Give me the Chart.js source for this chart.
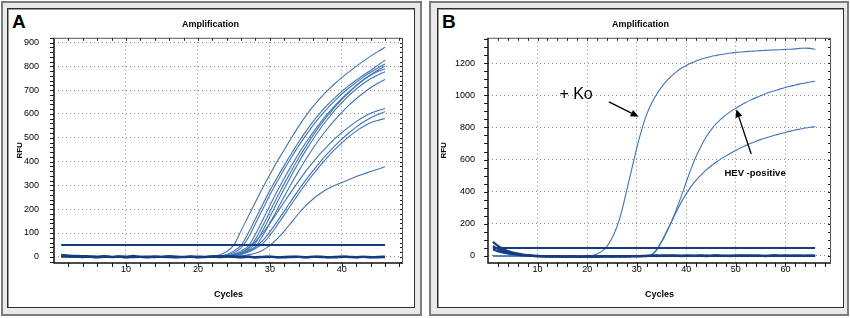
<!DOCTYPE html>
<html>
<head>
<meta charset="utf-8">
<script src="https://cdn.jsdelivr.net/npm/chart.js@4.4.1/dist/chart.umd.min.js"></script>
<style>
  html, body { margin: 0; padding: 0; background: #fff; }
  body { width: 850px; height: 318px; position: relative; overflow: hidden; }
  .frame { position: absolute; box-sizing: border-box; background: #e9e9e9; border: 2px solid #7c7c7c; }
  .inner { position: absolute; box-sizing: border-box; background: #fff; border: 1px solid #2e2e2e; box-shadow: inset 1px 1px 0 #9a9a9a; }
  .tag { position: absolute; font: bold 19px 'Liberation Sans', Arial, sans-serif; line-height: 19px; color: #000; }
  .wrap { position: absolute; top: 0; width: 425px; height: 318px; }
</style>
</head>
<body>
<div class="frame" style="left:1px;top:1px;width:421px;height:315px"></div>
<div class="inner" style="left:7px;top:8px;width:408px;height:300px"></div>
<div class="frame" style="left:429px;top:1px;width:420px;height:315px"></div>
<div class="inner" style="left:437px;top:8px;width:407px;height:300px"></div>
<div class="tag" style="left:12px;top:12px">A</div>
<div class="tag" style="left:442px;top:12px">B</div>
<div class="wrap" style="left:0"><canvas id="chartA" width="425" height="318"></canvas></div>
<div class="wrap" style="left:425px"><canvas id="chartB" width="425" height="318"></canvas></div>

<script>
// ---- Panel A: 11 positive samples, cycles 21..46 (flat at 0 before that) ----
const riseCyclesA = [21, 22, 23, 24, 25, 26, 27, 28, 29, 30, 31, 32, 33, 34, 35, 36, 37, 38, 39, 40, 41, 42, 43, 44, 45, 46];
const sampleA1 = [1, 3, 8, 22, 50, 110, 170, 230, 290, 345, 400, 450, 500, 548, 592, 632, 667, 698, 727, 753, 777, 800, 822, 843, 862, 880];
const sampleA2 = [0, 2, 4, 10, 25, 48, 100, 160, 220, 278, 332, 384, 434, 482, 527, 568, 605, 638, 668, 695, 720, 742, 763, 783, 805, 826];
const sampleA3 = [0, 1, 3, 7, 18, 38, 80, 140, 200, 260, 315, 368, 418, 466, 510, 552, 590, 624, 655, 684, 710, 733, 755, 775, 793, 810];
const sampleA4 = [0, 1, 2, 5, 12, 25, 45, 95, 155, 215, 275, 330, 383, 433, 480, 523, 563, 600, 634, 665, 694, 720, 744, 765, 784, 801];
const sampleA5 = [0, 0, 2, 4, 9, 18, 35, 75, 130, 190, 250, 307, 362, 415, 464, 510, 553, 592, 628, 661, 691, 718, 742, 763, 778, 790];
const sampleA6 = [0, 0, 1, 3, 7, 14, 28, 58, 110, 168, 228, 286, 342, 396, 447, 494, 538, 578, 615, 648, 678, 705, 728, 748, 764, 777];
const sampleA7 = [0, 0, 1, 2, 5, 11, 22, 42, 88, 142, 198, 254, 308, 360, 410, 456, 499, 538, 574, 607, 637, 664, 688, 710, 729, 745];
const sampleA8 = [0, 1, 2, 4, 9, 18, 36, 65, 100, 140, 185, 230, 275, 318, 360, 398, 433, 465, 495, 522, 546, 568, 587, 603, 614, 623];
const sampleA9 = [0, 0, 1, 3, 6, 12, 24, 42, 68, 105, 148, 192, 237, 281, 323, 362, 399, 433, 465, 494, 521, 545, 566, 584, 598, 609];
const sampleA10 = [0, 0, 1, 2, 5, 10, 20, 35, 55, 90, 132, 176, 221, 265, 307, 346, 383, 418, 450, 479, 505, 528, 547, 563, 573, 581];
const sampleA11 = [0, 0, 0, 1, 2, 4, 8, 15, 28, 48, 75, 108, 145, 182, 215, 243, 266, 285, 300, 312, 325, 337, 348, 358, 368, 378];

// negatives / baseline band, cycles 1..46
const cyclesA = [1, 2, 3, 4, 5, 6, 7, 8, 9, 10, 11, 12, 13, 14, 15, 16, 17, 18, 19, 20, 21, 22, 23, 24, 25, 26, 27, 28, 29, 30, 31, 32, 33, 34, 35, 36, 37, 38, 39, 40, 41, 42, 43, 44, 45, 46];
const negA1 = [8, 5, 4, 3, 2, 1, 3, 0, 2, 1, 4, 0, 1, 2, 0, 3, 1, 0, 2, 1, 0, 2, 3, 1, 2, 0, 1, -1, 0, 1, -2, 0, 1, 0, -1, 0, 1, -2, 0, 1, 0, -1, 0, -3, 0, 1];
const negA2 = [3, 1, 0, -1, 0, -2, 0, -1, 1, -3, -1, 0, -2, -1, 0, -1, -3, -1, 0, -2, -1, 0, -1, 1, 0, -2, 0, -3, -1, 0, -1, -3, -1, 0, -2, 0, -1, -1, -2, 0, -1, -2, 0, -1, -2, -1];
const thresholdCyclesA = [1, 46];
const thresholdA = [50, 50];
const xTicksA = [10, 20, 30, 40];
const yTicksA = [0, 100, 200, 300, 400, 500, 600, 700, 800, 900];

// ---- Panel B: +Ko control and two HEV-positive samples ----
const riseCyclesKo = [20, 21, 22, 23, 24, 25, 26, 27, 28, 29, 30, 31, 32, 33, 34, 35, 36, 37, 38, 39, 40, 41, 42, 43, 44, 45, 46, 47, 48, 49, 50, 51, 52, 53, 54, 55, 56, 57, 58, 59, 60, 61, 62, 63, 64, 65, 66];
const positiveKo = [0, 3, 12, 30, 60, 110, 180, 280, 410, 540, 670, 785, 880, 950, 1005, 1050, 1088, 1119, 1146, 1168, 1186, 1201, 1214, 1225, 1234, 1242, 1248, 1254, 1259, 1263, 1267, 1270, 1272, 1274, 1276, 1278, 1280, 1281, 1283, 1284, 1286, 1287, 1289, 1292, 1294, 1292, 1286];
const riseCyclesHev = [32, 33, 34, 35, 36, 37, 38, 39, 40, 41, 42, 43, 44, 45, 46, 47, 48, 49, 50, 51, 52, 53, 54, 55, 56, 57, 58, 59, 60, 61, 62, 63, 64, 65, 66];
const hevHigh = [0, 8, 40, 90, 150, 215, 290, 372, 460, 545, 620, 685, 740, 785, 822, 852, 878, 900, 920, 938, 955, 970, 984, 997, 1009, 1020, 1030, 1040, 1049, 1057, 1064, 1071, 1077, 1083, 1088];
const hevLow = [0, 6, 35, 85, 145, 210, 275, 335, 388, 433, 472, 505, 534, 560, 583, 604, 623, 641, 657, 673, 688, 701, 713, 724, 734, 744, 753, 761, 769, 777, 784, 790, 796, 801, 805];

const cyclesB = [1, 2, 3, 4, 5, 6, 7, 8, 9, 10, 11, 12, 13, 14, 15, 16, 17, 18, 19, 20, 21, 22, 23, 24, 25, 26, 27, 28, 29, 30, 31, 32, 33, 34, 35, 36, 37, 38, 39, 40, 41, 42, 43, 44, 45, 46, 47, 48, 49, 50, 51, 52, 53, 54, 55, 56, 57, 58, 59, 60, 61, 62, 63, 64, 65, 66];
const negB1 = [88, 62, 44, 31, 21, 14, 9, 5, 2, 0, -1, -2, -3, -2, -4, -3, -4, -5, -4, -3, -4, -3, -2, -3, -4, -2, -3, -2, -1, -2, 0, 1, 2, 3, 2, 1, 3, 2, 1, 2, 0, 1, 3, 2, 1, 2, 1, 0, 2, 1, 3, 2, 1, 2, 1, 0, 2, 3, 1, 2, 1, 2, 0, 1, 2, 1];
const negB2 = [60, 45, 33, 24, 16, 10, 6, 3, 1, -1, -2, -3, -4, -3, -5, -4, -3, -4, -5, -4, -3, -4, -3, -2, -3, -3, -2, -3, -2, -1, -1, 0, 1, 0, 1, 2, 0, 1, 0, 1, 2, 0, 1, 0, 1, 3, 0, 1, 0, 2, 0, 1, 2, 0, 1, 0, 1, 2, 0, 1, 0, 1, 2, 0, 1, 0];
const negB3 = [40, 30, 22, 16, 11, 7, 4, 2, 0, -2, -3, -4, -4, -4, -5, -4, -4, -5, -5, -4, -4, -4, -4, -3, -4, -3, -3, -3, -2, -2, -1, -1, 0, -1, 0, 1, 0, 0, -1, 0, 1, 0, 0, -1, 0, 1, 0, 0, -1, 0, 0, 0, 1, 0, 0, -1, 0, 1, 0, 0, 0, 0, 1, 0, 0, 0];
const thresholdCyclesB = [1, 66];
const thresholdB = [50, 50];
const xTicksB = [10, 20, 30, 40, 50, 60];
const yTicksB = [0, 200, 400, 600, 800, 1000, 1200];

const CURVE = '#3f74b6';
const DARK = '#153c7e';
const FONT = "'Liberation Sans', Arial, sans-serif";

function series(cycles, values, color, width) {
  return {
    data: cycles.map(function (c, i) { return { x: c, y: values[i] }; }),
    borderColor: color,
    borderWidth: width,
    pointRadius: 0,
    fill: false,
    cubicInterpolationMode: 'monotone'
  };
}

// a flat start at cycle 1 followed by the read-off rise
function sample(cycles, values) {
  return series([1].concat(cycles), [0].concat(values), CURVE, 1.1);
}

function fixedTicks(values) {
  return function (scale) {
    scale.ticks = values.map(function (v) { return { value: v }; });
  };
}

/**
 * Plot frame with minor ticks on all four sides, plus the text/arrow notes.
 */
const plotFrame = {
  id: 'plotFrame',
  afterDraw: function (chart, args, opts) {
    const ctx = chart.ctx;
    const a = chart.chartArea;
    const x = chart.scales.x;
    const y = chart.scales.y;
    ctx.save();

    (opts.notes || []).forEach(function (n) {
      ctx.font = n.font;
      ctx.fillStyle = '#000';
      ctx.textAlign = 'left';
      ctx.textBaseline = 'alphabetic';
      ctx.fillText(n.text, x.getPixelForValue(n.at[0]), y.getPixelForValue(n.at[1]));
    });
    (opts.arrows || []).forEach(function (ar) {
      const x0 = x.getPixelForValue(ar.from[0]), y0 = y.getPixelForValue(ar.from[1]);
      const x1 = x.getPixelForValue(ar.to[0]), y1 = y.getPixelForValue(ar.to[1]);
      const ang = Math.atan2(y1 - y0, x1 - x0);
      const len = 8, half = 3.5;
      const bx = x1 - len * Math.cos(ang), by = y1 - len * Math.sin(ang);
      ctx.strokeStyle = '#000';
      ctx.lineWidth = 1.3;
      ctx.beginPath();
      ctx.moveTo(x0, y0);
      ctx.lineTo(bx, by);
      ctx.stroke();
      ctx.fillStyle = '#000';
      ctx.beginPath();
      ctx.moveTo(x1, y1);
      ctx.lineTo(bx + half * Math.sin(ang), by - half * Math.cos(ang));
      ctx.lineTo(bx - half * Math.sin(ang), by + half * Math.cos(ang));
      ctx.closePath();
      ctx.fill();
    });

    ctx.strokeStyle = '#1a1a1a';
    ctx.lineWidth = 1;
    ctx.beginPath();
    for (let v = opts.xMinor; v <= x.max; v += opts.xMinor) {
      const px = Math.round(x.getPixelForValue(v)) + 0.5;
      ctx.moveTo(px, a.bottom); ctx.lineTo(px, a.bottom + 4);
      ctx.moveTo(px, a.top); ctx.lineTo(px, a.top + 3);
    }
    const firstY = Math.ceil(y.min / opts.yMinor) * opts.yMinor;
    for (let v = firstY; v <= y.max; v += opts.yMinor) {
      const py = Math.round(y.getPixelForValue(v)) + 0.5;
      ctx.moveTo(a.left, py); ctx.lineTo(a.left - 4, py);
      ctx.moveTo(a.right, py); ctx.lineTo(a.right - 3, py);
    }
    ctx.stroke();

    ctx.lineWidth = 1.5;
    ctx.strokeStyle = '#111';
    ctx.beginPath();
    ctx.moveTo(a.left, a.top);
    ctx.lineTo(a.left, a.bottom);
    ctx.lineTo(a.right, a.bottom);
    ctx.stroke();
    ctx.lineWidth = 1;
    ctx.strokeStyle = '#555';
    ctx.beginPath();
    ctx.moveTo(a.left, a.top + 0.5);
    ctx.lineTo(a.right - 0.5, a.top + 0.5);
    ctx.lineTo(a.right - 0.5, a.bottom);
    ctx.stroke();
    ctx.restore();
  }
};

function buildOptions(cfg) {
  const grey = '#8e8e8e';
  return {
    responsive: false,
    animation: false,
    devicePixelRatio: 1,
    layout: { padding: { left: cfg.padLeft, right: cfg.padRight, top: 0, bottom: 0 } },
    scales: {
      x: {
        type: 'linear',
        min: 0,
        max: cfg.xMax,
        afterBuildTicks: fixedTicks(cfg.xTicks),
        afterFit: function (s) { s.height = 55; },
        border: { display: false, dash: [1, 3] },
        grid: { drawTicks: false, lineWidth: 1, color: grey },
        ticks: {
          padding: 1,
          color: '#000',
          maxRotation: 0,
          autoSkip: false,
          font: { family: FONT, size: 9 },
          callback: function (v) { return String(v); }
        },
        title: {
          display: true,
          text: 'Cycles',
          color: '#000',
          font: { family: FONT, size: 9, weight: 'bold' },
          padding: { top: 0, bottom: 17.6 }
        }
      },
      y: {
        type: 'linear',
        min: cfg.yMin,
        max: cfg.yMax,
        afterBuildTicks: fixedTicks(cfg.yTicks),
        afterFit: function (s) { s.width = cfg.yWidth; },
        border: { display: false, dash: [1, 3] },
        grid: { drawTicks: false, lineWidth: 1, color: grey },
        ticks: {
          padding: cfg.yLabelGap,
          color: '#000',
          autoSkip: false,
          font: { family: FONT, size: 9 },
          callback: function (v) { return String(v); }
        },
        title: {
          display: true,
          text: 'RFU',
          color: '#000',
          font: { family: FONT, size: 8, weight: 'bold' },
          padding: { top: cfg.rfuShift, bottom: 0 }
        }
      }
    },
    plugins: {
      legend: { display: false },
      tooltip: { enabled: false },
      title: {
        display: true,
        text: 'Amplification',
        color: '#000',
        font: { family: FONT, size: 9, weight: 'bold' },
        padding: { top: 19, bottom: 8 }
      },
      plotFrame: {
        xMinor: 2,
        yMinor: cfg.yMinor,
        notes: cfg.notes || [],
        arrows: cfg.arrows || []
      }
    }
  };
}

new Chart(document.getElementById('chartA'), {
  type: 'line',
  data: {
    datasets: [
      series(thresholdCyclesA, thresholdA, DARK, 2),
      series(cyclesA, negA1, DARK, 2.2),
      series(cyclesA, negA2, DARK, 2.2),
      sample(riseCyclesA, sampleA1),
      sample(riseCyclesA, sampleA2),
      sample(riseCyclesA, sampleA3),
      sample(riseCyclesA, sampleA4),
      sample(riseCyclesA, sampleA5),
      sample(riseCyclesA, sampleA6),
      sample(riseCyclesA, sampleA7),
      sample(riseCyclesA, sampleA8),
      sample(riseCyclesA, sampleA9),
      sample(riseCyclesA, sampleA10),
      sample(riseCyclesA, sampleA11)
    ]
  },
  options: buildOptions({
    padLeft: 18, padRight: 22, yWidth: 36, yLabelGap: 15, rfuShift: -3.3,
    xMax: 48.5, yMin: -26, yMax: 920, yMinor: 20,
    xTicks: xTicksA, yTicks: yTicksA
  }),
  plugins: [plotFrame]
});

new Chart(document.getElementById('chartB'), {
  type: 'line',
  data: {
    datasets: [
      series(thresholdCyclesB, thresholdB, DARK, 2),
      series(cyclesB, negB1, DARK, 2.2),
      series(cyclesB, negB2, DARK, 2.2),
      series(cyclesB, negB3, DARK, 2.2),
      sample(riseCyclesKo, positiveKo),
      sample(riseCyclesHev, hevHigh),
      sample(riseCyclesHev, hevLow)
    ]
  },
  options: buildOptions({
    padLeft: 25, padRight: 19, yWidth: 38, yLabelGap: 13, rfuShift: -10.8,
    xMax: 69.2, yMin: -44, yMax: 1358, yMinor: 50,
    xTicks: xTicksB, yTicks: yTicksB,
    notes: [
      { text: '+ Ko', at: [14.4, 975], font: "16px 'Liberation Sans', Arial, sans-serif" },
      { text: 'HEV -positive', at: [47.7, 498], font: "bold 9.5px 'Liberation Sans', Arial, sans-serif" }
    ],
    arrows: [
      { from: [24.4, 959], to: [30.4, 867] },
      { from: [53.1, 635], to: [50.1, 913] }
    ]
  }),
  plugins: [plotFrame]
});
</script>
</body>
</html>
